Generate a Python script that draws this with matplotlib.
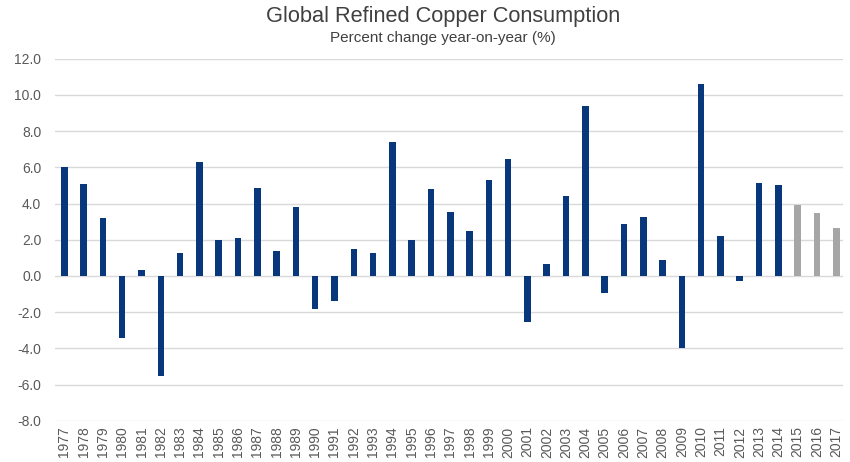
import matplotlib.pyplot as plt

years = list(range(1977, 2018))
values = [6.0, 5.1, 3.2, -3.4, 0.35, -5.5, 1.25, 6.3, 2.0, 2.1,
          4.85, 1.4, 3.8, -1.8, -1.4, 1.5, 1.25, 7.4, 2.0, 4.8,
          3.55, 2.5, 5.3, 6.45, -2.55, 0.65, 4.4, 9.4, -0.95, 2.85,
          3.25, 0.9, -4.0, 10.6, 2.2, -0.25, 5.15, 5.0, 3.9, 3.5, 2.65]
forecast_from = 2015

blue = "#08377B"
grey = "#A6A6A6"
colors = [grey if y >= forecast_from else blue for y in years]

plt.rcParams['font.family'] = ['Liberation Sans', 'DejaVu Sans']

fig = plt.figure(figsize=(8.5, 4.62), dpi=100)
ax = fig.add_axes([0.065, 0.089, 0.927, 0.784])

x = list(range(len(years)))
ax.bar(x, values, width=0.34, color=colors, zorder=3)

ax.set_ylim(-8, 12)
ax.set_yticks([v for v in range(-8, 13, 2)])
ax.set_yticklabels([f"{v:.1f}" for v in range(-8, 13, 2)])
ax.set_xlim(-0.47, len(years) - 0.64)
ax.set_xticks(x)
ax.set_xticklabels([str(y) for y in years], rotation=90)

ax.grid(axis='y', color='#D9D9D9', linewidth=1, zorder=0)
for s in ax.spines.values():
    s.set_visible(False)
ax.tick_params(axis='both', length=0, colors='#595959', labelsize=10)
ax.tick_params(axis='y', pad=10)
ax.tick_params(axis='x', pad=4)

fig.text(0.521, 0.965, "Global Refined Copper Consumption", ha='center', va='center',
         fontsize=15.7, color='#404040')
fig.text(0.521, 0.918, "Percent change year-on-year (%)", ha='center', va='center',
         fontsize=11, color='#404040')

fig.savefig("out.png", dpi=100)
